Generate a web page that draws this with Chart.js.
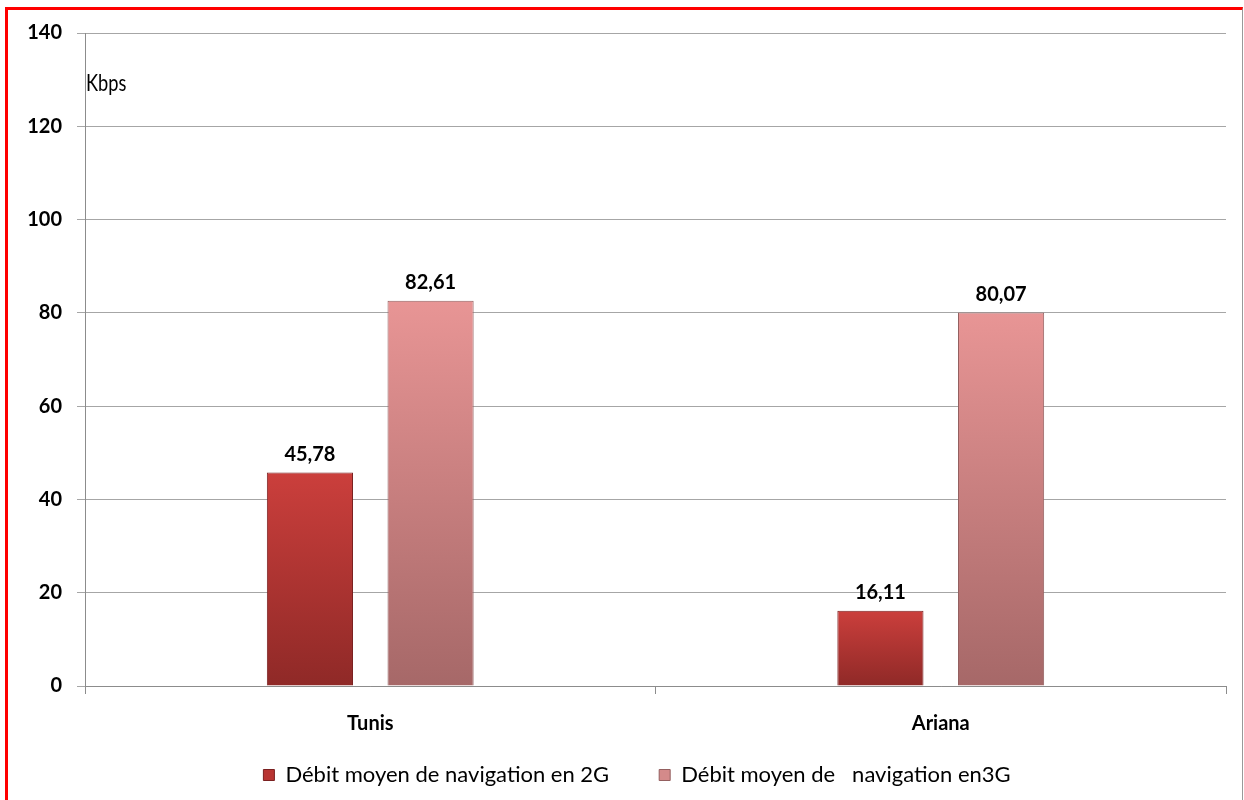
<!DOCTYPE html>
<html>
<head>
<meta charset="utf-8">
<script src="https://cdn.jsdelivr.net/npm/chart.js@4.4.1/dist/chart.umd.min.js"></script>
<style>
  html, body { margin: 0; padding: 0; background: #fff; }
  body { width: 1244px; height: 800px; position: relative; overflow: hidden; }
  #frame { position: absolute; left: 5px; top: 7px; width: 1234px; height: 810px;
           border-left: 3px solid #ff0000; border-top: 3px solid #ff0000; border-right: 1px solid #999; }
  #wrap { position: absolute; left: 0; top: 0; width: 1244px; height: 800px; }
</style>
</head>
<body>
<div id="frame"></div>
<div id="wrap"><canvas id="c" width="1244" height="800"></canvas></div>
<script>
const categories = ['Tunis', 'Ariana'];
const series2G = [45.78, 16.11];
const series3G = [82.61, 80.07];
const seriesNames = ['Débit moyen de navigation en 2G', 'Débit moyen de   navigation en3G'];
const yTicks = [0, 20, 40, 60, 80, 100, 120, 140];
const unitLabel = 'Kbps';

const FONT = 'Lato, "Open Sans", sans-serif';

function barGradient(topColor, bottomColor) {
  return (ctx) => {
    const chart = ctx.chart;
    if (ctx.type !== 'data' || !chart.chartArea) return topColor;
    const y = chart.scales.y;
    const yTop = y.getPixelForValue(ctx.raw);
    const yBot = y.getPixelForValue(0);
    if (!isFinite(yTop) || !isFinite(yBot) || yTop === yBot) return topColor;
    const g = chart.ctx.createLinearGradient(0, yTop, 0, yBot);
    g.addColorStop(0, topColor);
    g.addColorStop(1, bottomColor);
    return g;
  };
}

const fmt = v => v.toFixed(2).replace('.', ',');

const valueLabels = {
  id: 'valueLabels',
  afterDatasetsDraw(chart) {
    const ctx = chart.ctx;
    ctx.save();
    ctx.font = 'bold 20px ' + FONT;
    ctx.fillStyle = '#000';
    ctx.textAlign = 'center';
    ctx.textBaseline = 'middle';
    chart.data.datasets.forEach((ds, di) => {
      const meta = chart.getDatasetMeta(di);
      meta.data.forEach((el, i) => {
        ctx.fillText(fmt(ds.data[i]), el.x, el.y - 18);
      });
    });
    // unit label
    const ca = chart.chartArea;
    ctx.font = '24px ' + FONT;
    ctx.textAlign = 'left';
    ctx.translate(ca.left + 1, ca.top + 50);
    ctx.scale(0.76, 1);
    ctx.fillText(unitLabel, 0, 0);
    ctx.restore();
  }
};

// widen spacing between legend items at draw time while keeping the row in place
const LEGEND_FIT_PADDING = 26;
const LEGEND_ITEM_GAP = 50;
const legendSpacing = {
  id: 'legendSpacing',
  beforeDraw(chart) {
    const lg = chart.legend;
    if (!lg) return;
    const shift = LEGEND_ITEM_GAP - LEGEND_FIT_PADDING;
    lg.top -= shift;
    lg.options.labels.padding = LEGEND_ITEM_GAP;
    this._shift = shift;
  },
  afterDraw(chart) {
    const lg = chart.legend;
    if (!lg || this._shift === undefined) return;
    lg.top += this._shift;
    lg.options.labels.padding = LEGEND_FIT_PADDING;
    this._shift = undefined;
  }
};

const colors2G = ['#cb3f3c', '#8f2927'];
const colors3G = ['#e89595', '#a66868'];

new Chart(document.getElementById('c'), {
  type: 'bar',
  data: {
    labels: categories,
    datasets: [
      { label: seriesNames[0], data: series2G,
        backgroundColor: barGradient(colors2G[0], colors2G[1]),
        borderColor: '#7a2020', borderWidth: 1,
        categoryPercentage: 0.423, barPercentage: 0.714 },
      { label: seriesNames[1], data: series3G,
        backgroundColor: barGradient(colors3G[0], colors3G[1]),
        borderColor: '#946060', borderWidth: 1,
        categoryPercentage: 0.423, barPercentage: 0.714 }
    ]
  },
  options: {
    responsive: false,
    animation: false,
    layout: { padding: { top: 33, left: 0, right: 18, bottom: 4 } },
    plugins: {
      tooltip: { enabled: false },
      legend: {
        position: 'bottom',
        labels: {
          font: { family: FONT, size: 22 },
          color: '#000',
          boxWidth: 11, boxHeight: 11,
          padding: LEGEND_FIT_PADDING,
          generateLabels(chart) {
            return chart.data.datasets.map((ds, i) => ({
              text: ds.label,
              fillStyle: i === 0 ? '#b83432' : '#d48a8a',
              strokeStyle: i === 0 ? '#7a2020' : '#946060',
              lineWidth: 1,
              fontColor: '#000',
              hidden: false,
              datasetIndex: i
            }));
          }
        }
      }
    },
    scales: {
      x: {
        afterFit(s) { s.height = 52; },
        grid: { display: true, drawOnChartArea: false, drawTicks: true, tickLength: 8, color: '#8c8c8c' },
        border: { display: true, color: '#8c8c8c', width: 1 },
        ticks: { font: { family: FONT, size: 20, weight: 'bold' }, color: '#000', padding: 18 }
      },
      y: {
        min: 0, max: 140,
        afterFit(s) { s.width = 85; },
        afterBuildTicks(s) { s.ticks = yTicks.map(v => ({ value: v })); },
        grid: { color: '#a6a6a6', tickLength: 8, drawTicks: true },
        border: { display: true, color: '#8c8c8c', width: 1 },
        ticks: { font: { family: FONT, size: 20, weight: 'bold' }, color: '#000', padding: 15 }
      }
    }
  },
  plugins: [valueLabels, legendSpacing]
});
</script>
</body>
</html>
